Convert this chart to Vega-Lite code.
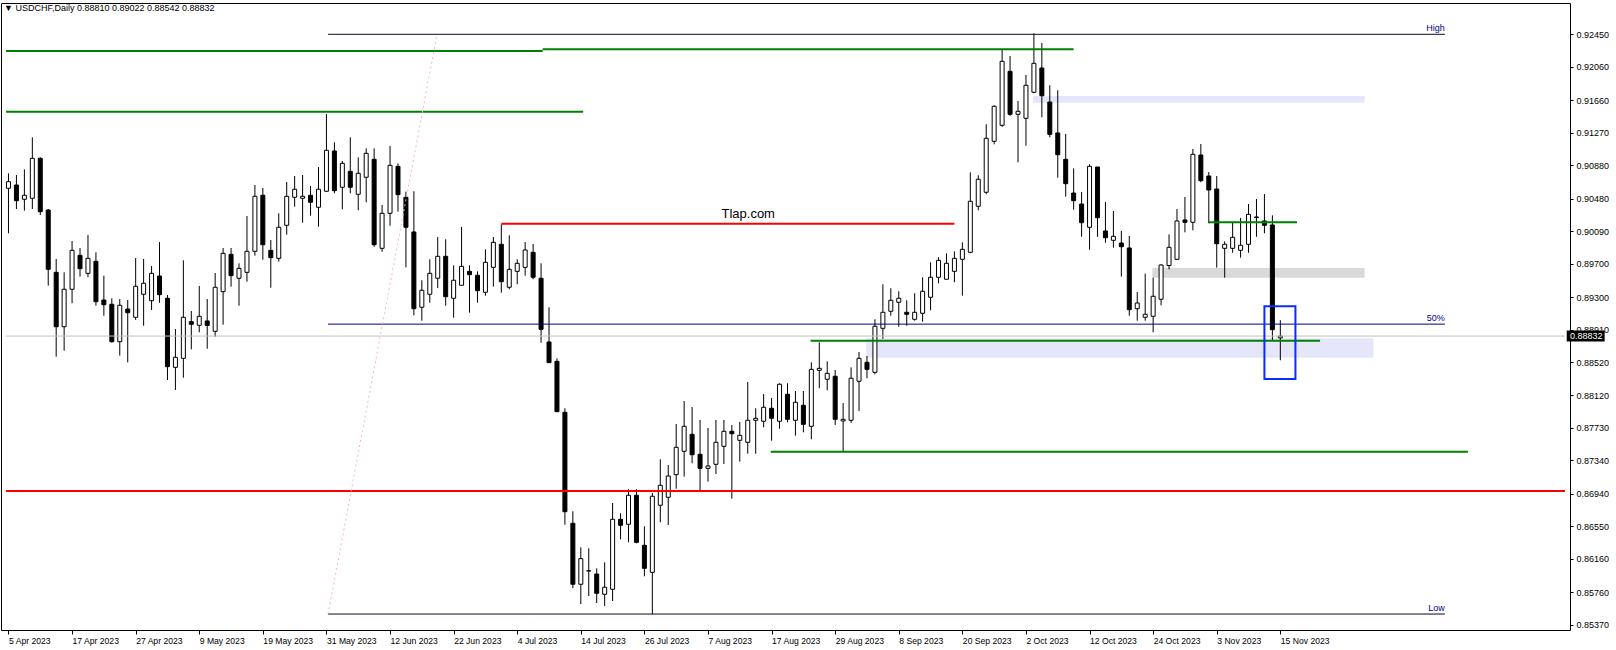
{
"$schema": "https://vega.github.io/schema/vega-lite/v6.json",
"width": 1569,
"height": 627,
"autosize": {"type": "none"},
"padding": {"left": 1, "top": 3, "right": 46, "bottom": 20},
"background": "white",
"title": {"text": "▼ USDCHF,Daily  0.88810 0.89022 0.88542 0.88832", "anchor": "start", "frame": "group", "orient": "top", "offset": -14, "baseline": "middle", "fontSize": 9, "fontWeight": "normal", "font": "Liberation Sans", "color": "black", "dx": 3},
"config": {"view": {"stroke": "black", "strokeWidth": 1}, "axis": {"labelOverlap": false, "labelBound": false, "labelFlush": false, "grid": false, "domain": false}},
"datasets": {
"candles": [
{"i":0,"o":0.90604,"h":0.90783,"l":0.90064,"c":0.90683},
{"i":1,"o":0.90643,"h":0.90763,"l":0.90355,"c":0.90455},
{"i":2,"o":0.90472,"h":0.90831,"l":0.90335,"c":0.90520},
{"i":3,"o":0.90484,"h":0.91215,"l":0.90355,"c":0.90963},
{"i":4,"o":0.90963,"h":0.90975,"l":0.90283,"c":0.90323},
{"i":5,"o":0.90343,"h":0.90355,"l":0.89436,"c":0.89632},
{"i":6,"o":0.89596,"h":0.89756,"l":0.88585,"c":0.88944},
{"i":7,"o":0.88944,"h":0.89596,"l":0.88656,"c":0.89393},
{"i":8,"o":0.89393,"h":0.89972,"l":0.89225,"c":0.89860},
{"i":9,"o":0.89800,"h":0.89888,"l":0.89544,"c":0.89640},
{"i":10,"o":0.89584,"h":0.90044,"l":0.89537,"c":0.89764},
{"i":11,"o":0.89728,"h":0.89836,"l":0.89196,"c":0.89244},
{"i":12,"o":0.89264,"h":0.89556,"l":0.89076,"c":0.89208},
{"i":13,"o":0.89213,"h":0.89285,"l":0.88752,"c":0.88764},
{"i":14,"o":0.88764,"h":0.89276,"l":0.88597,"c":0.89201},
{"i":15,"o":0.89156,"h":0.89264,"l":0.88517,"c":0.89112},
{"i":16,"o":0.89057,"h":0.89768,"l":0.89025,"c":0.89429},
{"i":17,"o":0.89333,"h":0.89756,"l":0.88956,"c":0.89465},
{"i":18,"o":0.89256,"h":0.89672,"l":0.89144,"c":0.89584},
{"i":19,"o":0.89552,"h":0.89960,"l":0.89232,"c":0.89328},
{"i":20,"o":0.89285,"h":0.89324,"l":0.88305,"c":0.88465},
{"i":21,"o":0.88457,"h":0.88917,"l":0.88185,"c":0.88577},
{"i":22,"o":0.88565,"h":0.89740,"l":0.88333,"c":0.89057},
{"i":23,"o":0.89004,"h":0.89132,"l":0.88673,"c":0.88973},
{"i":24,"o":0.88961,"h":0.89432,"l":0.88877,"c":0.89069},
{"i":25,"o":0.89013,"h":0.89276,"l":0.88680,"c":0.88959},
{"i":26,"o":0.88889,"h":0.89588,"l":0.88824,"c":0.89417},
{"i":27,"o":0.89364,"h":0.89888,"l":0.88968,"c":0.89824},
{"i":28,"o":0.89812,"h":0.89888,"l":0.89424,"c":0.89556},
{"i":29,"o":0.89525,"h":0.89704,"l":0.89196,"c":0.89644},
{"i":30,"o":0.89596,"h":0.90272,"l":0.89484,"c":0.89848},
{"i":31,"o":0.89848,"h":0.90643,"l":0.89796,"c":0.90508},
{"i":32,"o":0.90520,"h":0.90607,"l":0.89748,"c":0.89927},
{"i":33,"o":0.89860,"h":0.89984,"l":0.89412,"c":0.89772},
{"i":34,"o":0.89764,"h":0.90304,"l":0.89724,"c":0.90136},
{"i":35,"o":0.90160,"h":0.90679,"l":0.90047,"c":0.90508},
{"i":36,"o":0.90496,"h":0.90751,"l":0.90383,"c":0.90592},
{"i":37,"o":0.90484,"h":0.90763,"l":0.90191,"c":0.90508},
{"i":38,"o":0.90520,"h":0.90631,"l":0.90275,"c":0.90436},
{"i":39,"o":0.90376,"h":0.90859,"l":0.90143,"c":0.90592},
{"i":40,"o":0.90568,"h":0.91494,"l":0.90559,"c":0.91059},
{"i":41,"o":0.91051,"h":0.91155,"l":0.90544,"c":0.90575},
{"i":42,"o":0.90616,"h":0.90931,"l":0.90352,"c":0.90903},
{"i":43,"o":0.90807,"h":0.91215,"l":0.90544,"c":0.90616},
{"i":44,"o":0.90532,"h":0.90975,"l":0.90340,"c":0.90783},
{"i":45,"o":0.90736,"h":0.91083,"l":0.90436,"c":0.91023},
{"i":46,"o":0.90951,"h":0.91083,"l":0.89903,"c":0.89927},
{"i":47,"o":0.89884,"h":0.90403,"l":0.89843,"c":0.90304},
{"i":48,"o":0.90304,"h":0.91111,"l":0.90155,"c":0.90879},
{"i":49,"o":0.90867,"h":0.90903,"l":0.90323,"c":0.90527},
{"i":50,"o":0.90496,"h":0.90563,"l":0.89656,"c":0.90136},
{"i":51,"o":0.90080,"h":0.90568,"l":0.89081,"c":0.89160},
{"i":52,"o":0.89177,"h":0.89501,"l":0.89016,"c":0.89381},
{"i":53,"o":0.89333,"h":0.89752,"l":0.89232,"c":0.89584},
{"i":54,"o":0.89525,"h":0.90020,"l":0.89408,"c":0.89788},
{"i":55,"o":0.89788,"h":0.89992,"l":0.89196,"c":0.89304},
{"i":56,"o":0.89285,"h":0.89680,"l":0.89052,"c":0.89501},
{"i":57,"o":0.89441,"h":0.90140,"l":0.89440,"c":0.89668},
{"i":58,"o":0.89608,"h":0.89680,"l":0.89112,"c":0.89568},
{"i":59,"o":0.89561,"h":0.89608,"l":0.89232,"c":0.89376},
{"i":60,"o":0.89357,"h":0.89872,"l":0.89316,"c":0.89716},
{"i":61,"o":0.89656,"h":0.90020,"l":0.89424,"c":0.89956},
{"i":62,"o":0.89932,"h":0.90172,"l":0.89352,"c":0.89484},
{"i":63,"o":0.89417,"h":0.90040,"l":0.89393,"c":0.89632},
{"i":64,"o":0.89608,"h":0.89752,"l":0.89453,"c":0.89704},
{"i":65,"o":0.89656,"h":0.89960,"l":0.89556,"c":0.89864},
{"i":66,"o":0.89836,"h":0.89936,"l":0.89513,"c":0.89537},
{"i":67,"o":0.89525,"h":0.89704,"l":0.88752,"c":0.88913},
{"i":68,"o":0.88761,"h":0.89177,"l":0.88513,"c":0.88513},
{"i":69,"o":0.88529,"h":0.88565,"l":0.87925,"c":0.87925},
{"i":70,"o":0.87918,"h":0.87966,"l":0.86570,"c":0.86726},
{"i":71,"o":0.86587,"h":0.86731,"l":0.85808,"c":0.85856},
{"i":72,"o":0.85856,"h":0.86299,"l":0.85619,"c":0.86163},
{"i":73,"o":0.86015,"h":0.86287,"l":0.85715,"c":0.86018},
{"i":74,"o":0.85979,"h":0.86047,"l":0.85631,"c":0.85748},
{"i":75,"o":0.85736,"h":0.86119,"l":0.85595,"c":0.85820},
{"i":76,"o":0.85796,"h":0.86830,"l":0.85655,"c":0.86635},
{"i":77,"o":0.86635,"h":0.86707,"l":0.86395,"c":0.86563},
{"i":78,"o":0.86575,"h":0.86995,"l":0.86359,"c":0.86923},
{"i":79,"o":0.86923,"h":0.86995,"l":0.86347,"c":0.86359},
{"i":80,"o":0.86323,"h":0.86551,"l":0.85952,"c":0.86047},
{"i":81,"o":0.85999,"h":0.86950,"l":0.85499,"c":0.86911},
{"i":82,"o":0.86803,"h":0.87354,"l":0.86599,"c":0.87043},
{"i":83,"o":0.86899,"h":0.87286,"l":0.86567,"c":0.87154},
{"i":84,"o":0.87170,"h":0.87778,"l":0.87002,"c":0.87498},
{"i":85,"o":0.87450,"h":0.88053,"l":0.87146,"c":0.87750},
{"i":86,"o":0.87654,"h":0.87981,"l":0.87306,"c":0.87409},
{"i":87,"o":0.87414,"h":0.87826,"l":0.86978,"c":0.87246},
{"i":88,"o":0.87246,"h":0.87730,"l":0.87086,"c":0.87274},
{"i":89,"o":0.87294,"h":0.87826,"l":0.87178,"c":0.87558},
{"i":90,"o":0.87510,"h":0.87826,"l":0.87298,"c":0.87690},
{"i":91,"o":0.87690,"h":0.87766,"l":0.86882,"c":0.87661},
{"i":92,"o":0.87582,"h":0.87802,"l":0.87326,"c":0.87642},
{"i":93,"o":0.87558,"h":0.88281,"l":0.87421,"c":0.87822},
{"i":94,"o":0.87822,"h":0.87966,"l":0.87421,"c":0.87846},
{"i":95,"o":0.87810,"h":0.88137,"l":0.87738,"c":0.87978},
{"i":96,"o":0.87966,"h":0.88089,"l":0.87577,"c":0.87846},
{"i":97,"o":0.87810,"h":0.88266,"l":0.87721,"c":0.88254},
{"i":98,"o":0.88134,"h":0.88266,"l":0.87798,"c":0.87834},
{"i":99,"o":0.87822,"h":0.88173,"l":0.87637,"c":0.88038},
{"i":100,"o":0.88002,"h":0.88173,"l":0.87678,"c":0.87774},
{"i":101,"o":0.87750,"h":0.88517,"l":0.87594,"c":0.88433},
{"i":102,"o":0.88421,"h":0.88757,"l":0.88206,"c":0.88445},
{"i":103,"o":0.88314,"h":0.88529,"l":0.88182,"c":0.88385},
{"i":104,"o":0.88350,"h":0.88425,"l":0.87766,"c":0.87834},
{"i":105,"o":0.87814,"h":0.88029,"l":0.87442,"c":0.87834},
{"i":106,"o":0.87822,"h":0.88457,"l":0.87790,"c":0.88326},
{"i":107,"o":0.88290,"h":0.88641,"l":0.87933,"c":0.88565},
{"i":108,"o":0.88517,"h":0.88593,"l":0.88326,"c":0.88433},
{"i":109,"o":0.88397,"h":0.89033,"l":0.88373,"c":0.88949},
{"i":110,"o":0.88925,"h":0.89453,"l":0.88800,"c":0.89117},
{"i":111,"o":0.89129,"h":0.89405,"l":0.89076,"c":0.89261},
{"i":112,"o":0.89237,"h":0.89369,"l":0.88944,"c":0.89285},
{"i":113,"o":0.89117,"h":0.89261,"l":0.88956,"c":0.89093},
{"i":114,"o":0.89033,"h":0.89345,"l":0.89016,"c":0.89117},
{"i":115,"o":0.89105,"h":0.89537,"l":0.89004,"c":0.89369},
{"i":116,"o":0.89297,"h":0.89716,"l":0.89141,"c":0.89537},
{"i":117,"o":0.89537,"h":0.89776,"l":0.89465,"c":0.89740},
{"i":118,"o":0.89513,"h":0.89824,"l":0.89513,"c":0.89704},
{"i":119,"o":0.89608,"h":0.89848,"l":0.89477,"c":0.89764},
{"i":120,"o":0.89752,"h":0.89956,"l":0.89316,"c":0.89872},
{"i":121,"o":0.89836,"h":0.90795,"l":0.89824,"c":0.90448},
{"i":122,"o":0.90388,"h":0.90760,"l":0.90340,"c":0.90712},
{"i":123,"o":0.90556,"h":0.91371,"l":0.90532,"c":0.91203},
{"i":124,"o":0.91167,"h":0.91599,"l":0.91131,"c":0.91587},
{"i":125,"o":0.91359,"h":0.92270,"l":0.91339,"c":0.92126},
{"i":126,"o":0.92006,"h":0.92190,"l":0.91471,"c":0.91491},
{"i":127,"o":0.91491,"h":0.91650,"l":0.90915,"c":0.91527},
{"i":128,"o":0.91443,"h":0.91962,"l":0.91114,"c":0.91839},
{"i":129,"o":0.91755,"h":0.92462,"l":0.91743,"c":0.92102},
{"i":130,"o":0.92046,"h":0.92346,"l":0.91455,"c":0.91714},
{"i":131,"o":0.91638,"h":0.91839,"l":0.91215,"c":0.91251},
{"i":132,"o":0.91267,"h":0.91779,"l":0.90731,"c":0.91006},
{"i":133,"o":0.90951,"h":0.91255,"l":0.90503,"c":0.90659},
{"i":134,"o":0.90547,"h":0.90843,"l":0.90347,"c":0.90455},
{"i":135,"o":0.90415,"h":0.90559,"l":0.90023,"c":0.90191},
{"i":136,"o":0.90136,"h":0.90891,"l":0.89867,"c":0.90867},
{"i":137,"o":0.90859,"h":0.90859,"l":0.90023,"c":0.90251},
{"i":138,"o":0.90092,"h":0.90439,"l":0.89951,"c":0.90011},
{"i":139,"o":0.89980,"h":0.90331,"l":0.89891,"c":0.90028},
{"i":140,"o":0.89948,"h":0.90092,"l":0.89544,"c":0.89903},
{"i":141,"o":0.89888,"h":0.90032,"l":0.89076,"c":0.89148},
{"i":142,"o":0.89160,"h":0.89360,"l":0.89016,"c":0.89228},
{"i":143,"o":0.89057,"h":0.89580,"l":0.89016,"c":0.89093},
{"i":144,"o":0.89069,"h":0.89532,"l":0.88877,"c":0.89309},
{"i":145,"o":0.89273,"h":0.89692,"l":0.89201,"c":0.89684},
{"i":146,"o":0.89678,"h":0.90052,"l":0.89632,"c":0.89896},
{"i":147,"o":0.89752,"h":0.90355,"l":0.89744,"c":0.90212},
{"i":148,"o":0.90224,"h":0.90499,"l":0.90076,"c":0.90196},
{"i":149,"o":0.90196,"h":0.91075,"l":0.90100,"c":0.91011},
{"i":150,"o":0.91003,"h":0.91135,"l":0.90676,"c":0.90695},
{"i":151,"o":0.90751,"h":0.90799,"l":0.90184,"c":0.90583},
{"i":152,"o":0.90595,"h":0.90751,"l":0.89652,"c":0.89939},
{"i":153,"o":0.89884,"h":0.89968,"l":0.89532,"c":0.89932},
{"i":154,"o":0.89884,"h":0.90200,"l":0.89831,"c":0.90016},
{"i":155,"o":0.89860,"h":0.90248,"l":0.89772,"c":0.89920},
{"i":156,"o":0.89932,"h":0.90415,"l":0.89831,"c":0.90292},
{"i":157,"o":0.90252,"h":0.90475,"l":0.90023,"c":0.90260},
{"i":158,"o":0.90212,"h":0.90535,"l":0.90064,"c":0.90160},
{"i":159,"o":0.90164,"h":0.90280,"l":0.88785,"c":0.88908},
{"i":160,"o":0.88810,"h":0.89022,"l":0.88542,"c":0.88832}
],
"zones": [
{"kind":"zone","x0":128.9,"x1":170.6,"p":0.91710,"p2":0.91630},
{"kind":"range","x0":143.9,"x1":170.6,"p":0.89648,"p2":0.89532},
{"kind":"zone","x0":107.9,"x1":171.7,"p":0.88805,"p2":0.88573}
],
"thick": [
{"kind":"support","x0":-0.31,"x1":67.2,"p":0.92250},
{"kind":"support","x0":67.2,"x1":134.0,"p":0.92270},
{"kind":"support","x0":-0.31,"x1":72.3,"p":0.91522},
{"kind":"support","x0":100.9,"x1":165.0,"p":0.88776},
{"kind":"support","x0":95.9,"x1":183.6,"p":0.87445},
{"kind":"support","x0":151.0,"x1":162.1,"p":0.90196},
{"kind":"resistance","x0":62.0,"x1":119.0,"p":0.90179},
{"kind":"resistance","x0":-0.31,"x1":195.81,"p":0.86974}
],
"thin": [
{"kind":"price","x0":-0.31,"x1":195.81,"p":0.88832},
{"kind":"fib edge","x0":40.2,"x1":180.7,"p":0.92450},
{"kind":"fib mid","x0":40.2,"x1":180.7,"p":0.88975},
{"kind":"fib edge","x0":40.2,"x1":180.7,"p":0.85499}
],
"fibtrend": [
{"x":40.2,"p":0.85499},
{"x":53.91,"p":0.92450}
],
"fiblabels": [
{"t":"High","x":180.7,"p":0.92450},
{"t":"50%","x":180.7,"p":0.88975},
{"t":"Low","x":180.7,"p":0.85499}
],
"box": [
{"x0":158.0,"x1":161.9,"p":0.89189,"p2":0.88317}
],
"mark": [
{"t":"Tlap.com","x":93.06,"p":0.90296}
],
"last": [
{"t":"0.88832","p":0.88832}
]
},
"layer": [
{
"data": {"name": "zones"},
"mark": {"type": "rect"},
"encoding": {
"x": {"field": "x0", "type": "quantitative", "title": null, "scale": {"domain": [-0.3125, 195.8125], "nice": false, "zero": false},
"axis": {"orient": "bottom", "values": [0,8,16,24,32,40,48,56,64,72,80,88,96,104,112,120,128,136,144,152,160], "tickCount": 100,
"labelExpr": "['5 Apr 2023','17 Apr 2023','27 Apr 2023','9 May 2023','19 May 2023','31 May 2023','12 Jun 2023','22 Jun 2023','4 Jul 2023','14 Jul 2023','26 Jul 2023','7 Aug 2023','17 Aug 2023','29 Aug 2023','8 Sep 2023','20 Sep 2023','2 Oct 2023','12 Oct 2023','24 Oct 2023','3 Nov 2023','15 Nov 2023'][datum.value/8]",
"grid": false, "domain": false, "ticks": true, "tickSize": 4, "tickColor": "black", "labelAlign": "left", "labelBaseline": "top", "labelPadding": 2, "labelDx": -3, "labelFont": "Liberation Sans", "labelFontSize": 8.6, "labelColor": "black", "labelOverlap": false, "labelBound": false, "labelFlush": false}},
"x2": {"field": "x1"},
"y": {"field": "p", "type": "quantitative", "title": null, "scale": {"domain": [0.853076, 0.928253], "nice": false, "zero": false},
"axis": {"orient": "right", "values": [0.9245,0.9206,0.9166,0.9127,0.9088,0.9048,0.9009,0.897,0.893,0.8891,0.8852,0.8812,0.8773,0.8734,0.8694,0.8655,0.8616,0.8576,0.8537], "tickCount": 100,
"format": ".5f", "grid": false, "domain": false, "ticks": true, "tickSize": 3, "tickColor": "black", "labelPadding": 3, "labelFont": "Liberation Sans", "labelFontSize": 9, "labelColor": "black", "labelBaseline": "middle", "labelOverlap": false, "labelBound": false, "labelFlush": false}},
"y2": {"field": "p2"},
"fill": {"field": "kind", "type": "nominal", "scale": {"domain": ["zone", "range"], "range": ["#e6e6fa", "#d9d9d9"]}, "legend": null}
}
},
{
"data": {"name": "candles"},
"mark": {"type": "rule", "color": "black", "strokeWidth": 1},
"encoding": {
"x": {"field": "i", "type": "quantitative", "title": null, "scale": {"domain": [-0.3125, 195.8125], "nice": false, "zero": false}},
"y": {"field": "l", "type": "quantitative", "title": null, "scale": {"domain": [0.853076, 0.928253], "nice": false, "zero": false}},
"y2": {"field": "h"}
}
},
{
"data": {"name": "candles"},
"mark": {"type": "bar", "width": 4, "stroke": "black", "strokeWidth": 1},
"encoding": {
"x": {"field": "i", "type": "quantitative", "title": null, "scale": {"domain": [-0.3125, 195.8125], "nice": false, "zero": false}},
"y": {"field": "o", "type": "quantitative", "title": null, "scale": {"domain": [0.853076, 0.928253], "nice": false, "zero": false}},
"y2": {"field": "c"},
"fill": {"condition": {"test": "datum.c >= datum.o", "value": "white"}, "value": "black"}
}
},
{
"data": {"name": "thin"},
"mark": {"type": "rule", "strokeWidth": 1},
"encoding": {
"x": {"field": "x0", "type": "quantitative", "title": null, "scale": {"domain": [-0.3125, 195.8125], "nice": false, "zero": false}},
"x2": {"field": "x1"},
"y": {"field": "p", "type": "quantitative", "title": null, "scale": {"domain": [0.853076, 0.928253], "nice": false, "zero": false}},
"color": {"field": "kind", "type": "nominal", "scale": {"domain": ["support", "resistance", "price", "fib edge", "fib mid"], "range": ["#008000", "#ff0000", "#c0c0c0", "#08082a", "#000080"]}, "legend": null}
}
},
{
"data": {"name": "thick"},
"mark": {"type": "rule", "strokeWidth": 2},
"encoding": {
"x": {"field": "x0", "type": "quantitative", "title": null, "scale": {"domain": [-0.3125, 195.8125], "nice": false, "zero": false}},
"x2": {"field": "x1"},
"y": {"field": "p", "type": "quantitative", "title": null, "scale": {"domain": [0.853076, 0.928253], "nice": false, "zero": false}},
"color": {"field": "kind", "type": "nominal", "scale": {"domain": ["support", "resistance", "price", "fib edge", "fib mid"], "range": ["#008000", "#ff0000", "#c0c0c0", "#08082a", "#000080"]}, "legend": null}
}
},
{
"data": {"name": "fibtrend"},
"mark": {"type": "line", "color": "#f2b8b8", "strokeWidth": 1, "strokeDash": [2, 3]},
"encoding": {
"x": {"field": "x", "type": "quantitative", "title": null, "scale": {"domain": [-0.3125, 195.8125], "nice": false, "zero": false}},
"y": {"field": "p", "type": "quantitative", "title": null, "scale": {"domain": [0.853076, 0.928253], "nice": false, "zero": false}}
}
},
{
"data": {"name": "box"},
"mark": {"type": "rect", "filled": false, "stroke": "#0a2cff", "strokeWidth": 2},
"encoding": {
"x": {"field": "x0", "type": "quantitative", "title": null, "scale": {"domain": [-0.3125, 195.8125], "nice": false, "zero": false}},
"x2": {"field": "x1"},
"y": {"field": "p", "type": "quantitative", "title": null, "scale": {"domain": [0.853076, 0.928253], "nice": false, "zero": false}},
"y2": {"field": "p2"}
}
},
{
"data": {"name": "fiblabels"},
"mark": {"type": "text", "align": "right", "baseline": "bottom", "dy": -1, "font": "Liberation Sans", "fontSize": 9, "color": "#000080"},
"encoding": {
"x": {"field": "x", "type": "quantitative", "title": null, "scale": {"domain": [-0.3125, 195.8125], "nice": false, "zero": false}},
"y": {"field": "p", "type": "quantitative", "title": null, "scale": {"domain": [0.853076, 0.928253], "nice": false, "zero": false}},
"text": {"field": "t"}
}
},
{
"data": {"name": "mark"},
"mark": {"type": "text", "align": "center", "baseline": "middle", "font": "Liberation Sans", "fontSize": 13, "color": "black"},
"encoding": {
"x": {"field": "x", "type": "quantitative", "title": null, "scale": {"domain": [-0.3125, 195.8125], "nice": false, "zero": false}},
"y": {"field": "p", "type": "quantitative", "title": null, "scale": {"domain": [0.853076, 0.928253], "nice": false, "zero": false}},
"text": {"field": "t"}
}
},
{
"data": {"name": "last"},
"mark": {"type": "rect", "color": "black"},
"encoding": {
"x": {"datum": 196.03, "type": "quantitative", "scale": {"domain": [-0.3125, 195.8125], "nice": false, "zero": false}},
"x2": {"datum": 200.8},
"y": {"datum": 0.88898, "type": "quantitative", "scale": {"domain": [0.853076, 0.928253], "nice": false, "zero": false}},
"y2": {"datum": 0.88766}
}
},
{
"data": {"name": "last"},
"mark": {"type": "text", "align": "left", "baseline": "middle", "font": "Liberation Sans", "fontSize": 9, "color": "white"},
"encoding": {
"x": {"datum": 196.45, "type": "quantitative", "scale": {"domain": [-0.3125, 195.8125], "nice": false, "zero": false}},
"y": {"field": "p", "type": "quantitative", "title": null, "scale": {"domain": [0.853076, 0.928253], "nice": false, "zero": false}},
"text": {"field": "t"}
}
}
]
}
